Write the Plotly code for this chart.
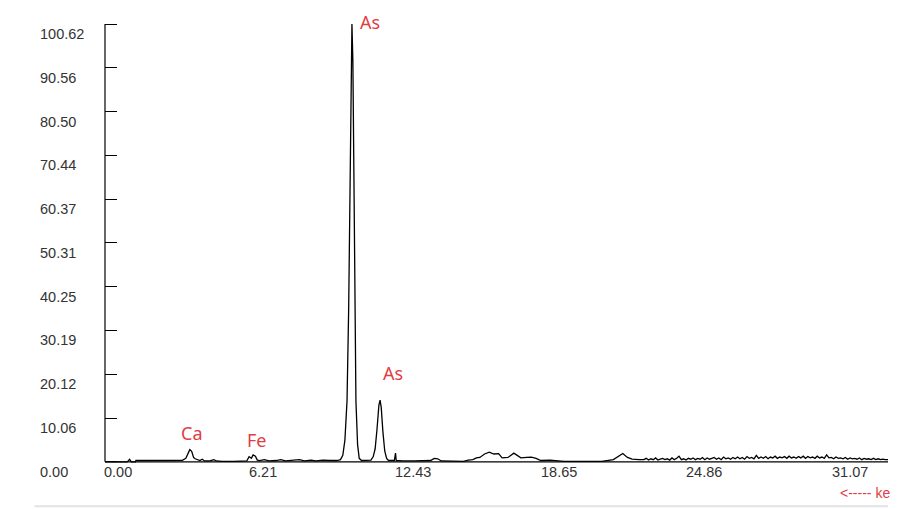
import plotly.graph_objects as go

# --- data ---
kev = [0.00, 0.95, 1.05, 1.12, 1.30, 1.32, 2.00, 2.60, 3.30, 3.45, 3.55, 3.62, 3.70, 3.78, 3.85, 3.95,
       4.05, 4.15, 4.25, 4.50, 4.65, 4.75, 5.00, 5.50, 6.05, 6.15, 6.25, 6.32, 6.42, 6.50, 6.60, 6.80,
       7.00, 7.30, 7.50, 7.70, 8.00, 8.30, 8.50, 8.80, 9.00, 9.30, 9.60, 9.90,
       10.05, 10.15, 10.24, 10.33, 10.40, 10.46, 10.50, 10.54, 10.58, 10.62, 10.67, 10.71, 10.78, 10.85, 10.95,
       11.20, 11.35, 11.45, 11.53, 11.61, 11.69, 11.74, 11.79, 11.86, 11.94, 12.02, 12.10,
       12.35, 12.40, 12.43, 12.70, 13.20, 13.50, 13.90, 14.05, 14.20, 14.35, 14.80, 15.30,
       15.50, 15.70, 15.85, 16.00, 16.20, 16.40, 16.60, 16.80, 16.95, 17.20, 17.45, 17.60, 17.75,
       18.00, 18.20, 18.40, 18.60, 19.00, 19.30, 19.60, 20.50, 21.20, 21.70, 21.95, 22.10, 22.30,
       22.50, 22.80,
       23.0, 23.1, 23.2, 23.3, 23.4, 23.5, 23.6, 23.7, 23.8, 23.9,
       24.0, 24.1, 24.2, 24.3, 24.4, 24.5, 24.6, 24.7, 24.8, 24.9,
       25.0, 25.1, 25.2, 25.3, 25.4, 25.5, 25.6, 25.7, 25.8, 25.9,
       26.0, 26.1, 26.2, 26.3, 26.4, 26.5, 26.6, 26.7, 26.8, 26.9,
       27.0, 27.1, 27.2, 27.3, 27.4, 27.5, 27.6, 27.7, 27.8, 27.9,
       28.0, 28.1, 28.2, 28.3, 28.4, 28.5, 28.6, 28.7, 28.8, 28.9,
       29.0, 29.1, 29.2, 29.3, 29.4, 29.5, 29.6, 29.7, 29.8, 29.9,
       30.0, 30.1, 30.2, 30.3, 30.4, 30.5, 30.6, 30.7, 30.8, 30.9,
       31.0, 31.1, 31.2, 31.3, 31.4, 31.5, 31.6, 31.7, 31.8, 31.9,
       32.0, 32.1, 32.2, 32.3, 32.4, 32.5, 32.6, 32.7, 32.8, 32.9,
       33.0, 33.1, 33.2, 33.3, 33.45]
counts = [0.0, 0.0, 0.6, 0.0, 0.0, 0.3, 0.3, 0.3, 0.35, 0.8, 2.2, 2.8, 2.4, 1.0, 0.7, 0.5,
          0.3, 0.6, 0.2, 0.25, 0.5, 0.2, 0.1, 0.1, 0.2, 1.2, 0.8, 1.6, 1.3, 0.4, 0.3, 0.5,
          0.2, 0.3, 0.5, 0.2, 0.3, 0.5, 0.2, 0.4, 0.2, 0.4, 0.3, 0.3,
          0.5, 1.5, 5.0, 14.0, 35.0, 65.0, 84.0, 100.6, 92.0, 65.0, 36.0, 14.0, 4.0, 0.8, 0.3,
          0.3, 0.4, 1.2, 3.0, 7.5, 13.0, 14.2, 12.5, 7.0, 2.5, 0.8, 0.3,
          0.3, 2.0, 0.3, 0.2, 0.2, 0.3, 0.3, 0.8, 0.7, 0.2, 0.1, 0.1,
          0.4, 0.5, 0.9, 1.0, 1.8, 2.2, 1.8, 1.9, 0.9, 1.0, 2.0, 1.4, 0.9,
          1.0, 1.1, 0.8, 0.3, 0.4, 0.3, 0.1, 0.1, 0.1, 0.5, 1.5, 1.9, 1.0,
          0.6, 0.5,
          0.5, 0.8, 0.4, 0.7, 0.5, 0.9, 0.4, 0.6, 0.8, 0.5,
          0.7, 0.4, 0.9, 0.5, 0.8, 1.3, 0.5, 0.7, 0.4, 0.8,
          0.6, 0.9, 0.5, 0.8, 0.6, 1.0, 0.5, 0.9, 0.6, 0.8,
          1.0, 0.6, 0.9, 0.5, 1.1, 0.7, 0.9, 0.6, 1.0, 0.7,
          1.1, 0.7, 1.0, 0.6, 1.2, 0.8, 1.0, 0.7, 1.5, 0.8,
          1.1, 0.8, 1.2, 0.7, 1.1, 0.9, 1.3, 0.8, 1.1, 0.9,
          1.2, 0.8, 1.3, 0.9, 1.1, 0.8, 1.2, 0.9, 1.3, 0.8,
          1.2, 0.9, 1.1, 0.8, 1.3, 0.9, 1.1, 0.8, 1.6, 0.9,
          1.0, 0.7, 1.1, 0.8, 0.9, 0.7, 1.0, 0.6, 0.9, 0.7,
          0.8, 0.6, 0.9, 0.5, 0.8, 0.6, 0.7, 0.5, 0.8, 0.5,
          0.7, 0.5, 0.6, 0.5, 0.5]

y_ticks = [0.00, 10.06, 20.12, 30.19, 40.25, 50.31, 60.37, 70.44, 80.50, 90.56, 100.62]
y_tick_text = ["0.00", "10.06", "20.12", "30.19", "40.25", "50.31", "60.37", "70.44", "80.50", "90.56", "100.62"]
x_ticks = [0.00, 6.21, 12.43, 18.65, 24.86, 31.07]
x_tick_text = ["0.00", "6.21", "12.43", "18.65", "24.86", "31.07"]

peak_labels = ["As", "As", "Ca", "Fe"]
peak_x = [11.31, 12.29, 3.71, 6.49]
peak_y = [101.0, 20.4, 6.7, 5.1]

RED = "#e23c44"
TXT = "#333333"
FONT = "Liberation Sans, Arial, sans-serif"
LFONT = "Noto Sans, Liberation Sans, sans-serif"

fig = go.Figure()
fig.add_trace(go.Scatter(x=kev, y=counts, mode="lines",
                         line=dict(color="black", width=1.3), hoverinfo="skip"))

annotations = []
for v, t in zip(y_ticks, y_tick_text):
    annotations.append(dict(x=0, xref="paper", y=v, yref="y", text=t, showarrow=False,
                            xanchor="left", yanchor="middle", xshift=-67, yshift=-10,
                            font=dict(family=FONT, size=14.5, color=TXT)))
for v, t in zip(x_ticks, x_tick_text):
    annotations.append(dict(x=v, xref="x", y=0, yref="y", text=t, showarrow=False,
                            xanchor="left", yanchor="middle", xshift=-3, yshift=-10,
                            font=dict(family=FONT, size=14.5, color=TXT)))
for t, px, py in zip(peak_labels, peak_x, peak_y):
    annotations.append(dict(x=px, xref="x", y=py, yref="y", text=t, showarrow=False,
                            xanchor="center", yanchor="middle",
                            font=dict(family=LFONT, size=18, color=RED)))
annotations.append(dict(x=1, xref="paper", y=0, yref="y", text="<----- ke", showarrow=False,
                        xanchor="right", yanchor="middle", xshift=4, yshift=-31,
                        font=dict(family=FONT, size=14, color=RED)))

fig.update_layout(
    width=913, height=501,
    margin=dict(l=97, r=33, t=10, b=45),
    paper_bgcolor="white", plot_bgcolor="white",
    showlegend=False,
    annotations=annotations,
    xaxis=dict(range=[0, 33.42], showgrid=False, zeroline=False, showticklabels=False,
               ticks="", showline=False),
    yaxis=dict(range=[-0.5, 102.0], showgrid=False, zeroline=False, showticklabels=False,
               tickmode="array", tickvals=y_ticks, ticks="inside", ticklen=12,
               tickwidth=1, tickcolor="black", showline=False),
    shapes=[
        dict(type="line", xref="paper", yref="y", x0=0, x1=0, y0=0, y1=100.62,
             line=dict(color="black", width=1.2)),
        dict(type="line", xref="paper", yref="y", x0=0, x1=1, y0=0, y1=0,
             line=dict(color="black", width=1.2), layer="below"),
        dict(type="line", xref="paper", yref="paper", x0=-0.09, x1=1.0, y0=-0.095, y1=-0.095,
             line=dict(color="#e2e2e2", width=2)),
    ],
)

fig.write_html("out.html")
